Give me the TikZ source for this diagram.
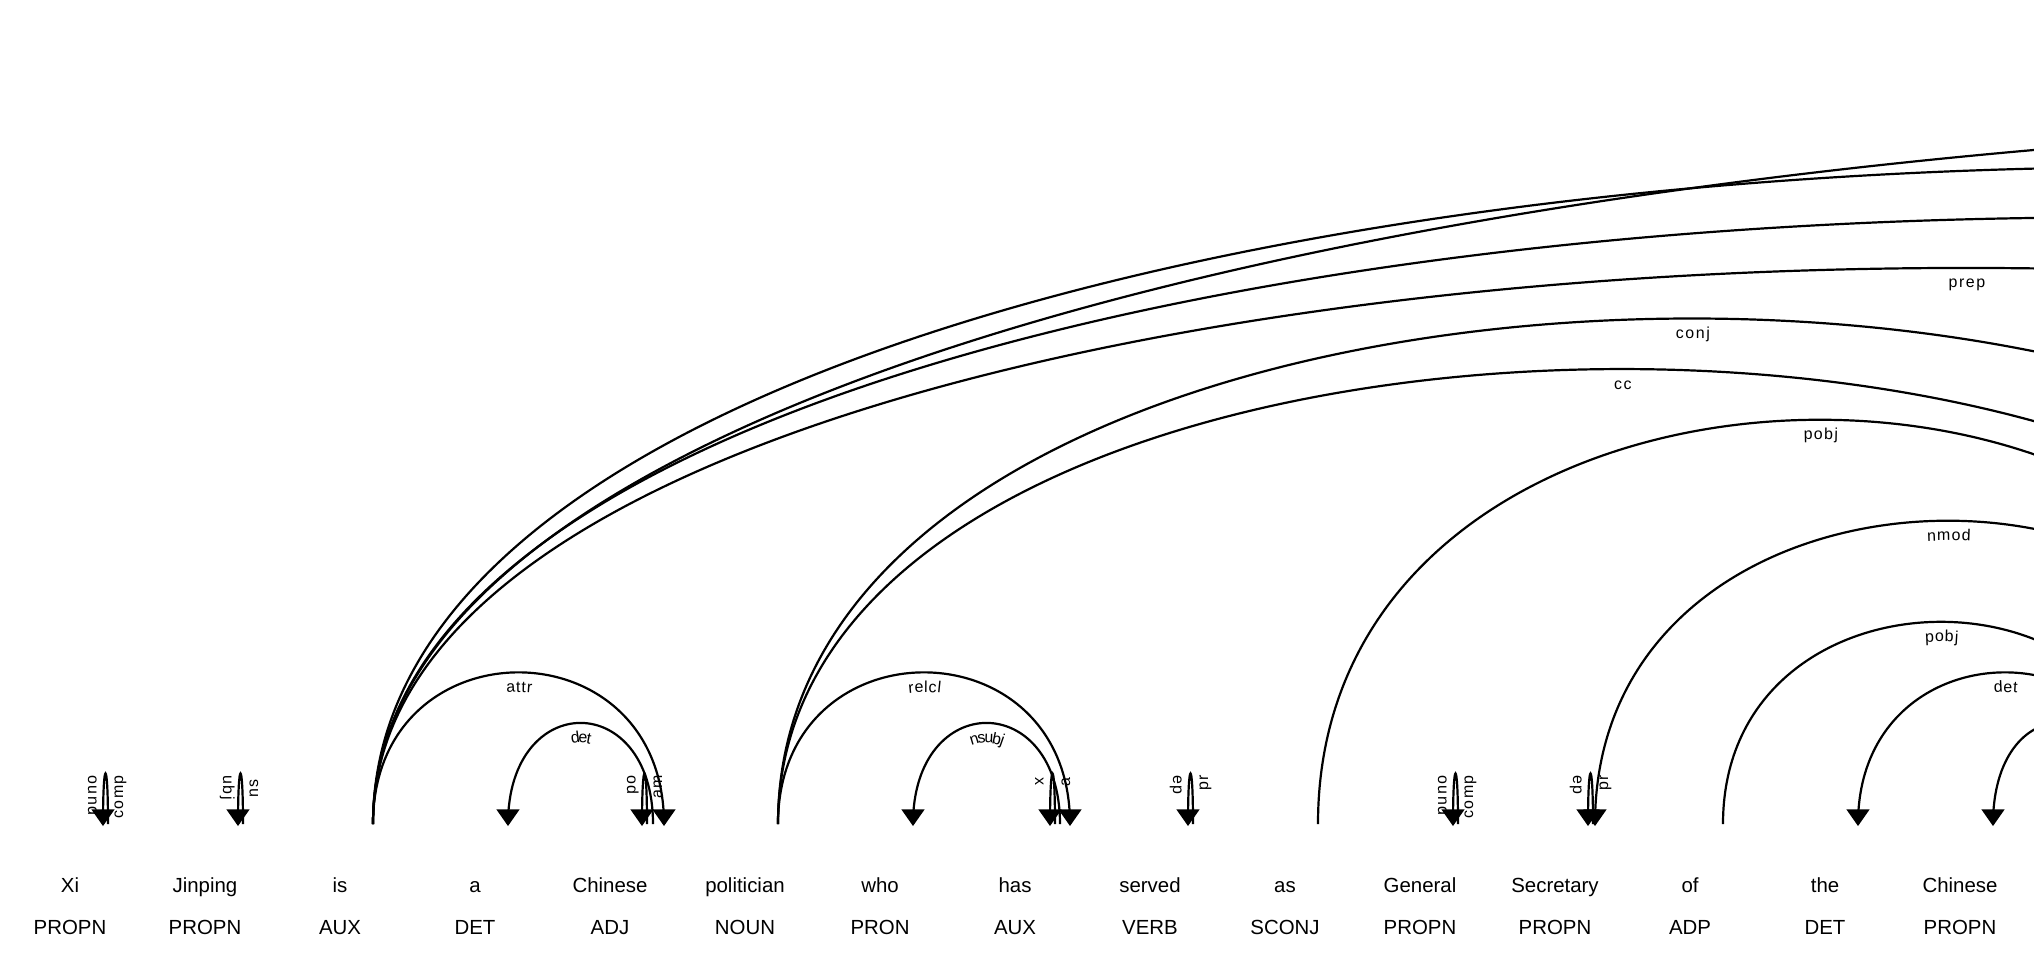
\documentclass[tikz,border=0pt]{standalone}
\usepackage{fontspec}
\setmainfont{Liberation Sans}
\newfontfamily\lblfam[LetterSpace=10]{Liberation Sans}
\usetikzlibrary{decorations.text}
\newcommand\lblfont{\lblfam\fontsize{16}{18}\selectfont}
\newcommand\depHead[1]{\fill (#1) ++(0,2) -- ++(-11.7,-16.7) -- ++(23.4,0) -- cycle;}
\tikzset{
  dep/.style={line width=2.2bp, black},
  lab/.style={postaction={decorate,decoration={text along path,text={|\lblfont\kern1.6bp|#1},text align=center,raise=-20bp}}},
  word/.style={font=\fontsize{20.5}{24}\selectfont, anchor=base, inner sep=0pt},
  rlab/.style={font=\lblfont, inner sep=0pt, rotate=90, anchor=base east},
  llab/.style={font=\lblfont, inner sep=0pt, rotate=-90, anchor=base west},
}
\begin{document}
\begin{tikzpicture}[x=1bp,y=-1bp]
\fill[white] (0,0) rectangle (2034,966);
\useasboundingbox (0,0) rectangle (2034,966);
\begin{scope}
\clip (0,0) rectangle (2034,966);
% arc end points
\coordinate (is) at (373,824);
\coordinate (eA) at (5273,824);
\coordinate (eB) at (3973,824);
\coordinate (eC) at (3853,824);
\coordinate (ePrep) at (3559,824);
\coordinate (chAttr) at (664,824);
\coordinate (aDet) at (508,824);
\coordinate (chDet) at (653,824);
\coordinate (pol) at (778,824);
\coordinate (eConj) at (2606,824);
\coordinate (eCc) at (2466,824);
\coordinate (hasRel) at (1070,824);
\coordinate (who) at (913,824);
\coordinate (hasSub) at (1060,824);
\coordinate (as) at (1318,824);
\coordinate (ePobj) at (2322,824);
\coordinate (secN) at (1595,824);
\coordinate (eNmod) at (2301,824);
\coordinate (of) at (1723,824);
\coordinate (ePobjB) at (2159,824);
\coordinate (the) at (1858,824);
\coordinate (eDet) at (2152,824);
\coordinate (chin) at (1993,824);
\coordinate (eCh) at (2125,824);
% loops
\coordinate (xiL) at (103,824);  \coordinate (xiR) at (108,824);
\coordinate (jiL) at (238,824);  \coordinate (jiR) at (243,824);
\coordinate (chL) at (642,824);  \coordinate (chR) at (647,824);
\coordinate (haL) at (1050,824); \coordinate (haR) at (1055,824);
\coordinate (seL) at (1188,824); \coordinate (seR) at (1193,824);
\coordinate (geL) at (1453,824); \coordinate (geR) at (1458,824);
\coordinate (scL) at (1588,824); \coordinate (scR) at (1593,824);

% long arcs from "is"
\draw[dep] (is) .. controls +(0,-943.6) and +(0,-943.6) .. (eA);
\draw[dep] (is) .. controls +(0,-876.2) and +(0,-876.2) .. (eB);
\draw[dep] (is) .. controls +(0,-808.8) and +(0,-808.8) .. (eC);
\draw[dep,lab=prep] (is) .. controls +(0,-741.4) and +(0,-741.4) .. (ePrep);
\draw[dep,lab=attr] (is) .. controls +(0,-202.2) and +(0,-202.2) .. (chAttr);
\draw[dep,lab=det] (aDet) .. controls +(0,-134.8) and +(0,-134.8) .. (chDet);
% arcs from "politician"
\draw[dep,lab=conj] (pol) .. controls +(0,-674) and +(0,-674) .. (eConj);
\draw[dep,lab=cc] (pol) .. controls +(0,-606.6) and +(0,-606.6) .. (eCc);
\draw[dep,lab=relcl] (pol) .. controls +(0,-202.2) and +(0,-202.2) .. (hasRel);
\draw[dep,lab=nsubj] (who) .. controls +(0,-134.8) and +(0,-134.8) .. (hasSub);
% right part
\draw[dep,lab=pobj] (as) .. controls +(0,-539) and +(0,-539) .. (ePobj);
\draw[dep,lab=nmod] (secN) .. controls +(0,-404.4) and +(0,-404.4) .. (eNmod);
\draw[dep,lab=pobj] (of) .. controls +(0,-269.6) and +(0,-269.6) .. (ePobjB);
\draw[dep,lab=det] (the) .. controls +(0,-202.2) and +(0,-202.2) .. (eDet);
\draw[dep] (chin) .. controls +(0,-134.8) and +(0,-134.8) .. (eCh);
% thin loops
\foreach \l/\r in {xiL/xiR,jiL/jiR,chL/chR,haL/haR,seL/seR,geL/geR,scL/scR}{
  \draw[dep] (\l) .. controls +(0,-67.4) and +(0,-67.4) .. (\r);
}
% arrow heads
\depHead{aDet}
\depHead{chAttr}
\depHead{who}
\depHead{hasRel}
\depHead{secN}
\depHead{the}
\depHead{chin}
\foreach \l in {xiL,jiL,chL,haL,seL,geL,scL}{\depHead{\l}}
\end{scope}

% labels around thin loops
\node[rlab] (xiA) at (123,775) {comp};
\node[llab] (xiB) at (88,775) {ound};
\node[rlab] (jiA) at (258,779) {ns};
\node[llab] (jiB) at (223,775) {ubj};
\node[rlab] (chA) at (662,775) {am};
\node[llab] (chB) at (627,775) {od};
\node[rlab] (haA) at (1070,777) {a};
\node[llab] (haB) at (1035,777) {x};
\node[rlab] (seA) at (1208,775) {pr};
\node[llab] (seB) at (1173,775) {ep};
\node[rlab] (geA) at (1473,775) {comp};
\node[llab] (geB) at (1438,775) {ound};
\node[rlab] (scA) at (1608,775) {pr};
\node[llab] (scB) at (1573,775) {ep};

% words and tags
\foreach \i/\w/\t in {0/Xi/PROPN,1/Jinping/PROPN,2/is/AUX,3/a/DET,4/Chinese/ADJ,5/politician/NOUN,6/who/PRON,7/has/AUX,8/served/VERB,9/as/SCONJ,10/General/PROPN,11/Secretary/PROPN,12/of/ADP,13/the/DET,14/Chinese/PROPN}{
  \node[word] (w\i) at (70+135*\i,892.5) {\w};
  \node[word] (t\i) at (70+135*\i,934) {\t};
}
\end{tikzpicture}
\end{document}
